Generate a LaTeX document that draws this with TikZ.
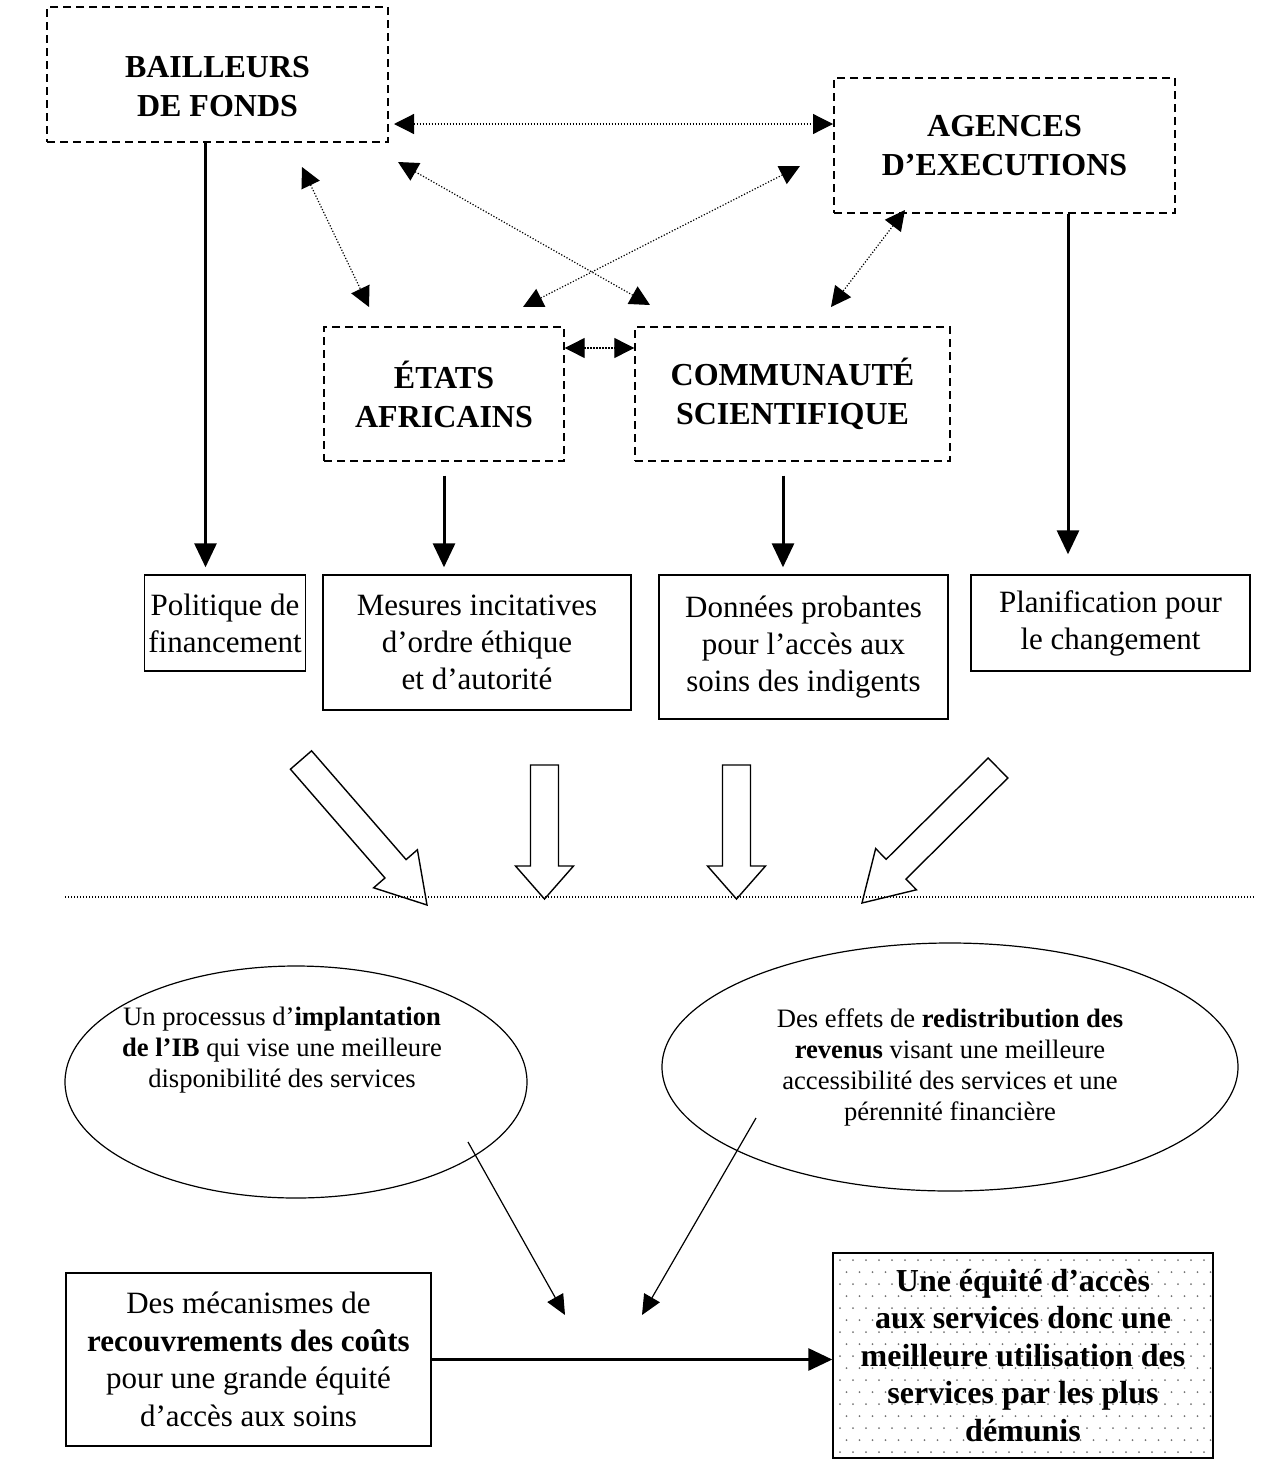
\documentclass[tikz,border=0pt]{standalone}
\usepackage{fontspec}
\setmainfont{Liberation Serif}
\usetikzlibrary{calc,positioning,backgrounds,arrows.meta,shapes.geometric}

\newcommand{\hollowarrow}[3]{%
  \coordinate (hb) at ($(#2)!#3!(#1)$);
  \draw[blockarrow] ($(#1)!7pt!90:(#2)$) -- ($(hb)!7pt!90:(#2)$) -- ($(hb)!14.5pt!90:(#2)$) -- (#2)
    -- ($(hb)!14.5pt!-90:(#2)$) -- ($(hb)!7pt!-90:(#2)$) -- ($(#1)!7pt!-90:(#2)$) -- cycle;
}

\begin{document}
\begin{tikzpicture}[x=0.5pt, y=-0.5pt,
    actor/.style={draw, dash pattern=on 4pt off 2.5pt, line width=0.7pt, align=center, font=\bfseries\fontsize{16}{19.5}\selectfont},
    result/.style={draw, line width=0.7pt, align=center, inner sep=2pt, font=\fontsize{15.5}{18.5}\selectfont},
    oval/.style={draw, ellipse, line width=0.6pt},
    ovaltext/.style={align=center, font=\fontsize{13.3}{15.5}\selectfont},
    dotarrow/.style={line width=0.6pt, dash pattern=on 0.6pt off 0.9pt, {Triangle[length=10pt,width=10pt]}-{Triangle[length=10pt,width=10pt]}},
    thickarrow/.style={line width=1.5pt, -{Triangle[length=12pt,width=11pt]}},
    thinarrow/.style={line width=0.6pt, -{Triangle[length=10pt,width=9pt]}},
    blockarrow/.style={draw, line width=0.7pt, fill=white, line join=miter}]

    \useasboundingbox (0,0) rectangle (1262,1462);

    \node[actor, minimum width=170.5pt, minimum height=67.5pt, text height=42pt] (bail) at (217.5,74.5) {BAILLEURS\\DE FONDS};
    \node[actor, minimum width=170.5pt, minimum height=67.5pt] (agen) at (1004.5,145.5) {AGENCES\\D’EXECUTIONS};
    \node[actor, minimum width=120pt, minimum height=67pt] (etats) at (444,394) {ÉTATS\\AFRICAINS};
    \node[actor, minimum width=157.5pt, minimum height=67pt] (comm) at (792.5,394) {COMMUNAUTÉ\\SCIENTIFIQUE};

    \node[result, minimum width=80pt, minimum height=48pt] (poli) at (225,623) {Politique de\\financement};
    \node[result, minimum width=154pt, minimum height=67.5pt] (mesu) at (477,642.5) {Mesures incitatives\\d’ordre éthique\\et d’autorité};
    \node[result, minimum width=144.5pt, minimum height=72pt] (donn) at (803.5,647) {Données probantes\\pour l’accès aux\\soins des indigents};
    \node[result, minimum width=139.5pt, minimum height=48pt] (plan) at (1110.5,623) {Planification pour\\le changement};

    \node[oval, minimum width=231pt, minimum height=116pt] (ipl) at (296,1082) {};
    \node[ovaltext] (ipltxt) at (282,1050) {Un processus d’\textbf{implantation}\\\textbf{de l’IB} qui vise une meilleure\\disponibilité des services};
    \node[oval, ovaltext, minimum width=288pt, minimum height=124pt] (redis) at (950,1067) {Des effets de \textbf{redistribution des}\\\textbf{revenus} visant une meilleure\\accessibilité des services et une\\pérennité financière};

    \node[result, minimum width=182.5pt, minimum height=86.5pt, font=\fontsize{15.5}{18.75}\selectfont] (meca) at (248.5,1359.5) {Des mécanismes de\\\textbf{recouvrements des coûts}\\pour une grande équité\\d’accès aux soins};
    \node[result, minimum width=190pt, minimum height=102.5pt, font=\bfseries\fontsize{16}{18.75}\selectfont] (equi) at (1023,1355.5) {Une équité d’accès\\aux services donc une\\meilleure utilisation des\\services par les plus\\démunis};
    \begin{scope}[on background layer]
        \clip (equi.south west) rectangle (equi.north east);
        \foreach \r in {0,...,17}
            \foreach \c in {0,...,29}
                \fill[black!55] ({840+13*\c+6.5*mod(\r,2)},{1260+12*\r}) circle (0.5pt);
    \end{scope}

    \coordinate (bA) at (394,124);
    \coordinate (aA) at (833,124);
    \coordinate (bE) at (302,167);
    \coordinate (eB) at (369,307);
    \coordinate (bC) at (398,162);
    \coordinate (cB) at (650,305);
    \coordinate (aE) at (800,166);
    \coordinate (eA) at (523,307);
    \coordinate (aC) at (905,210);
    \coordinate (cA) at (831,307);

    \draw[dotarrow] (bA) -- (aA);
    \draw[dotarrow] (bE) -- (eB);
    \draw[dotarrow] (bC) -- (cB);
    \draw[dotarrow] (aE) -- (eA);
    \draw[dotarrow] (aC) -- (cA);
    \draw[dotarrow] ([yshift=23pt]etats.east) -- ([yshift=23pt]comm.west);

    \draw[thickarrow, shorten >=3.5pt] ([xshift=-6pt]bail.south) -- ([xshift=-6pt]bail.south |- poli.north);
    \draw[thickarrow, shorten <=7pt, shorten >=3.5pt] (etats.south) -- (etats.south |- mesu.north);
    \draw[thickarrow, shorten <=7pt, shorten >=3.5pt] ([xshift=-4.75pt]comm.south) -- ([xshift=-4.75pt]comm.south |- donn.north);
    \draw[thickarrow, shorten >=10pt] ([xshift=31.75pt]agen.south) -- ([xshift=31.75pt]agen.south |- plan.north);

    \coordinate (t1) at (301,760);
    \coordinate (h1) at (427,905);
    \coordinate (t2) at (544.5,765);
    \coordinate (h2) at (544.5,899);
    \coordinate (t3) at (736.5,765);
    \coordinate (h3) at (736.5,899);
    \coordinate (t4) at (998,768);
    \coordinate (h4) at (862,903);
    \hollowarrow{t1}{h1}{24pt}
    \hollowarrow{t2}{h2}{16.5pt}
    \hollowarrow{t3}{h3}{16.5pt}
    \hollowarrow{t4}{h4}{24pt}

    \coordinate (sepL) at (65,897);
    \coordinate (sepR) at (1255,897);
    \draw[line width=0.6pt, dash pattern=on 0.6pt off 0.9pt] (sepL) -- (sepR);

    \coordinate (i1) at (468,1142);
    \coordinate (i2) at (565,1315);
    \coordinate (r1) at (756,1118);
    \coordinate (r2) at (642,1315);
    \draw[thinarrow] (i1) -- (i2);
    \draw[thinarrow] (r1) -- (r2);

    \draw[thickarrow] (meca.east) -- (meca.east -| equi.west);
\end{tikzpicture}
\end{document}
